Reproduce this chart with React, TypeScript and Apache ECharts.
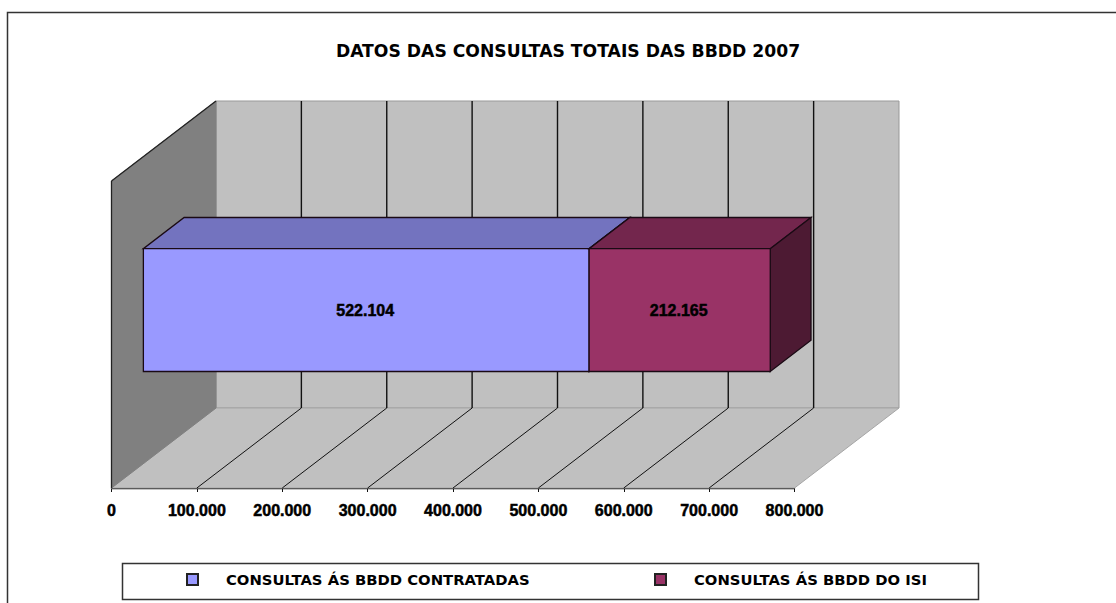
import React, { useEffect, useRef } from "react";
import * as echarts from "echarts";

const categories = ["2007"];
const seriesNames = ["CONSULTAS ÁS BBDD CONTRATADAS", "CONSULTAS ÁS BBDD DO ISI"];
const contratadas = [522104];
const isi = [212165];
const axisMin = 0;
const axisMax = 800000;
const axisStep = 100000;
const gridValues = [100000, 200000, 300000, 400000, 500000, 600000, 700000];
const titleText = "DATOS DAS CONSULTAS TOTAIS DAS BBDD 2007";

const fmt = (v: number) => String(v).replace(/\B(?=(\d{3})+(?!\d))/g, ".");

const DEPTH_X = 104.5;
const DEPTH_Y = -80;
const BAR_FRONT = 0.305;
const BAR_BACK = 0.695;
const BAR_BAND = 0.4;
const FONT = "'DejaVu Sans'";
const NUM_FONT = "'Liberation Sans'";

function poly(points: number[][], fill: string, stroke: string, lineWidth = 1) {
  return { type: "polygon", shape: { points }, style: { fill, stroke, lineWidth } };
}
function line(a: number[], b: number[], stroke: string, lineWidth = 1) {
  return { type: "line", shape: { x1: a[0], y1: a[1], x2: b[0], y2: b[1] }, style: { stroke, lineWidth } };
}

function renderWalls(_params: any, api: any) {
  const y = api.coord([0, 0])[1];
  const h = api.size([0, 1])[1];
  const top = y - h / 2;
  const bottom = y + h / 2;
  const x0 = api.coord([axisMin, 0])[0];
  const x1 = api.coord([axisMax, 0])[0];
  const children: any[] = [
    poly([[x0 + DEPTH_X, top + DEPTH_Y], [x1 + DEPTH_X, top + DEPTH_Y], [x1 + DEPTH_X, bottom + DEPTH_Y], [x0 + DEPTH_X, bottom + DEPTH_Y]], "#c0c0c0", "#999999"),
    poly([[x0, bottom], [x1, bottom], [x1 + DEPTH_X, bottom + DEPTH_Y], [x0 + DEPTH_X, bottom + DEPTH_Y]], "#c0c0c0", "#a6a6a6"),
    poly([[x0, top], [x0 + DEPTH_X, top + DEPTH_Y], [x0 + DEPTH_X, bottom + DEPTH_Y], [x0, bottom]], "#808080", "#808080"),
    line([x0, top], [x0 + DEPTH_X, top + DEPTH_Y], "#222222", 1.3),
    line([x0, top], [x0, bottom], "#222222", 1.3),
  ];
  gridValues.forEach((v) => {
    const x = api.coord([v, 0])[0];
    children.push(line([x, bottom], [x + DEPTH_X, bottom + DEPTH_Y], "#111111"));
    children.push(line([x + DEPTH_X, bottom + DEPTH_Y], [x + DEPTH_X, top + DEPTH_Y], "#111111", 1.4));
  });
  return { type: "group", children };
}

function makeBar(front: string, topFace: string, side: string, offsets: number[]) {
  return (params: any, api: any) => {
    const value = api.value(1) as number;
    const start = offsets[params.dataIndex];
    const c = api.coord([start, params.dataIndex]);
    const e = api.coord([start + value, params.dataIndex]);
    const band = api.size([0, 1])[1] * BAR_BAND;
    const fx = DEPTH_X * BAR_FRONT;
    const fy = DEPTH_Y * BAR_FRONT;
    const bx = DEPTH_X * BAR_BACK;
    const by = DEPTH_Y * BAR_BACK;
    const t = c[1] - band / 2;
    const b = c[1] + band / 2;
    const x0 = c[0];
    const x1 = e[0];
    const ink = "#1a0a14";
    return {
      type: "group",
      children: [
        poly([[x0 + bx, t + by], [x1 + bx, t + by], [x1 + fx, t + fy], [x0 + fx, t + fy]], topFace, ink, 1.3),
        poly([[x1 + fx, t + fy], [x1 + bx, t + by], [x1 + bx, b + by], [x1 + fx, b + fy]], side, ink, 1.3),
        poly([[x0 + fx, t + fy], [x1 + fx, t + fy], [x1 + fx, b + fy], [x0 + fx, b + fy]], front, ink, 1.3),
        {
          type: "text",
          style: {
            x: (x0 + x1) / 2 + fx - 1,
            y: c[1] + fy,
            text: fmt(value),
            align: "center",
            verticalAlign: "middle",
            fill: "#000000",
            stroke: "#000000",
            lineWidth: 0.5,
            font: `bold 16px ${NUM_FONT}`,
          },
        },
      ],
    };
  };
}

export default function App() {
  const ref = useRef<HTMLDivElement>(null);
  useEffect(() => {
    const chart = echarts.init(ref.current!, null, { renderer: "svg" });
    const legendBase = {
      orient: "horizontal",
      top: 567,
      itemWidth: 11,
      itemHeight: 11,
      icon: "rect",
      selectedMode: false,
      textStyle: {
        color: "#000",
        fontFamily: FONT,
        fontWeight: "bold",
        fontSize: 14.8,
        padding: [0, 0, 0, 23],
      },
    };
    chart.setOption({
      animation: false,
      backgroundColor: "#ffffff",
      title: {
        text: titleText,
        left: 563,
        top: 37.5,
        textAlign: "center",
        textStyle: { color: "#000", fontFamily: FONT, fontWeight: "bold", fontSize: 17.2 },
      },
      grid: { left: 111.5, top: 181, width: 683, height: 307 },
      legend: [
        { ...legendBase, left: 181, data: [seriesNames[0]] },
        { ...legendBase, left: 649, data: [seriesNames[1]] },
      ],
      xAxis: {
        type: "value",
        min: axisMin,
        max: axisMax,
        interval: axisStep,
        splitLine: { show: false },
        axisLine: { show: true, lineStyle: { color: "#111", width: 1.3 } },
        axisTick: { show: true, length: 4, lineStyle: { color: "#111" } },
        axisLabel: {
          color: "#000",
          margin: 14,
          fontFamily: NUM_FONT,
          fontWeight: "bold",
          fontSize: 16,
          textBorderColor: "#000",
          textBorderWidth: 0.5,
          formatter: (v: number) => fmt(v),
        },
      },
      yAxis: { type: "category", data: categories, show: false },
      graphic: [
        { type: "polyline", silent: true, shape: { points: [[7.5, 603], [7.5, 12.5], [1116, 12.5]] }, style: { fill: "none", stroke: "#333", lineWidth: 1.5 } },
        { type: "rect", silent: true, shape: { x: 122.5, y: 563.5, width: 856, height: 36 }, style: { fill: "#fff", stroke: "#333", lineWidth: 1.5 }, z: -1 },
      ],
      series: [
        { type: "custom", name: "walls", renderItem: renderWalls, data: [[0, 0]], encode: { x: 0, y: 1 }, silent: true, clip: false, z: 1 },
        {
          type: "custom",
          name: seriesNames[0],
          renderItem: makeBar("#9999ff", "#7373bf", "#4d4d80", [0]),
          data: contratadas.map((v, i) => [i, v]),
          encode: { x: 1, y: 0 },
          itemStyle: { color: "#9999ff", borderColor: "#222", borderWidth: 1 },
          clip: false,
          z: 2,
        },
        {
          type: "custom",
          name: seriesNames[1],
          renderItem: makeBar("#993366", "#73264d", "#4d1a33", contratadas),
          data: isi.map((v, i) => [i, v]),
          encode: { x: 1, y: 0 },
          itemStyle: { color: "#993366", borderColor: "#222", borderWidth: 1 },
          clip: false,
          z: 3,
        },
      ],
    });
    return () => chart.dispose();
  }, []);
  return <div ref={ref} style={{ position: "absolute", left: 0, top: 0, width: 1116, height: 603 }} />;
}
